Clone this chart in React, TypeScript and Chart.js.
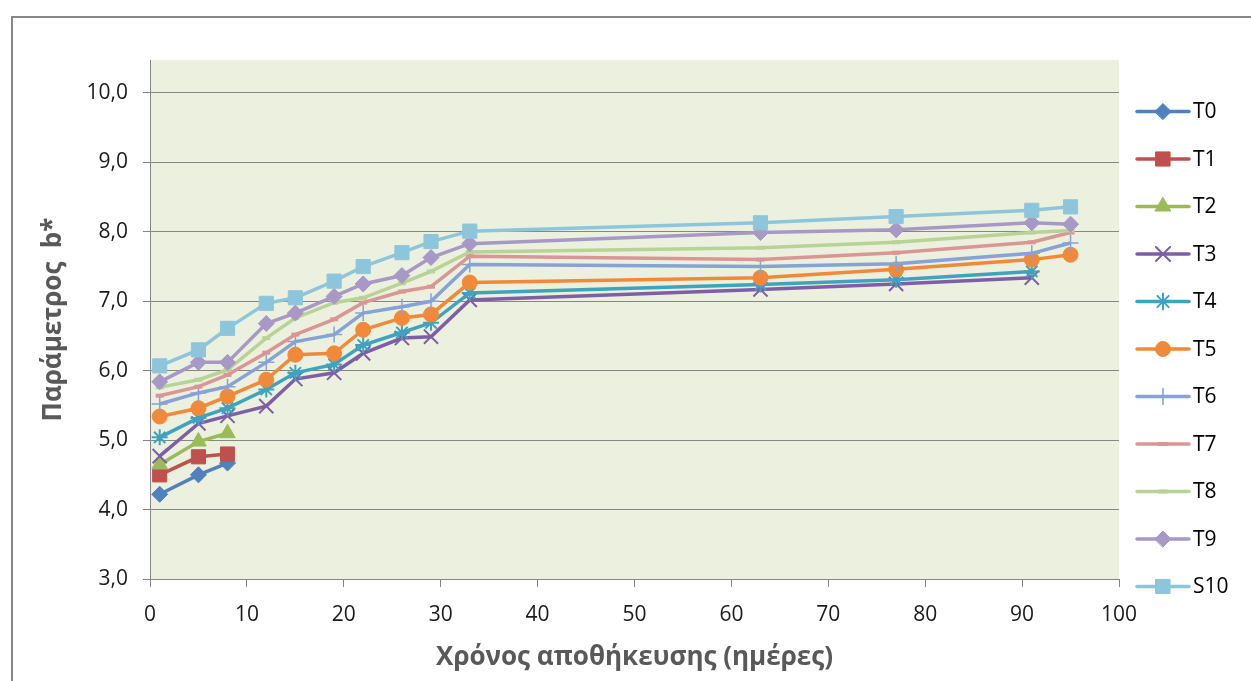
import React, { useEffect, useRef } from 'react';
import { Chart, registerables } from 'chart.js';
import { drawPoint } from 'chart.js/helpers';

Chart.register(...registerables);

// ---- data ----
const days = [1, 5, 8, 12, 15, 19, 22, 26, 29, 33, 63, 77, 91, 95];
const seriesNames = ['T0', 'T1', 'T2', 'T3', 'T4', 'T5', 'T6', 'T7', 'T8', 'T9', 'S10'];
const t0 = [4.22, 4.5, 4.67];
const t1 = [4.5, 4.76, 4.8];
const t2 = [4.65, 4.98, 5.1];
const t3 = [4.77, 5.24, 5.35, 5.49, 5.88, 5.97, 6.25, 6.47, 6.49, 7.02, 7.17, 7.25, 7.34];
const t4 = [5.04, 5.32, 5.46, 5.73, 5.97, 6.09, 6.37, 6.55, 6.69, 7.12, 7.24, 7.31, 7.43];
const t5 = [5.34, 5.46, 5.63, 5.87, 6.23, 6.25, 6.59, 6.76, 6.81, 7.27, 7.34, 7.46, 7.6, 7.67];
const t6 = [5.52, 5.68, 5.77, 6.12, 6.42, 6.52, 6.83, 6.92, 7.0, 7.53, 7.5, 7.54, 7.69, 7.84];
const t7 = [5.64, 5.77, 5.94, 6.26, 6.52, 6.74, 6.98, 7.14, 7.21, 7.65, 7.6, 7.7, 7.85, 7.99];
const t8 = [5.76, 5.87, 6.01, 6.47, 6.76, 6.98, 7.05, 7.26, 7.43, 7.71, 7.77, 7.85, 7.99, 8.02];
const t9 = [5.84, 6.12, 6.12, 6.68, 6.83, 7.07, 7.25, 7.37, 7.63, 7.83, 7.99, 8.03, 8.13, 8.11];
const s10 = [6.07, 6.3, 6.61, 6.97, 7.05, 7.29, 7.5, 7.7, 7.86, 8.01, 8.13, 8.22, 8.31, 8.36];
const seriesValues = [t0, t1, t2, t3, t4, t5, t6, t7, t8, t9, s10];
const yTickValues = [3, 4, 5, 6, 7, 8, 9, 10];
const xTitle = 'Χρόνος αποθήκευσης (ημέρες)';
const yTitle = 'Παράμετρος  b*';

// ---- styles ----
const colors = ['#4F81BD', '#C0504D', '#9BBB59', '#7E5FA5', '#3FA3BF', '#F08A3A', '#86A2D6', '#D99694', '#B9D296', '#A898C6', '#8DC6DA'];
const pointStyles = ['rectRot', 'rect', 'triangle', 'crossRot', 'star', 'circle', 'cross', 'line', 'line', 'rectRot', 'rect'];
const pointRadii = [8, 10, 9, 10, 8, 7.5, 8, 4, 4, 8, 10];
const pointBorders = [1, 1, 1, 2, 2, 1, 1.5, 4, 4, 1, 1];
const FONT = "'Open Sans', sans-serif";

const bgPlugin = {
  id: 'plotBg',
  beforeDraw(chart: any) {
    const { ctx, chartArea } = chart;
    ctx.save();
    ctx.fillStyle = '#EBF1DE';
    ctx.fillRect(chartArea.left, chartArea.top, chartArea.right - chartArea.left, chartArea.bottom - chartArea.top);
    ctx.restore();
  },
};

const legendPlugin = {
  id: 'sideLegend',
  afterDraw(chart: any) {
    const ctx = chart.ctx;
    chart.data.datasets.forEach((ds: any, i: number) => {
      const y = 111.5 + i * 47.5;
      ctx.save();
      ctx.strokeStyle = ds.borderColor;
      ctx.lineWidth = 3.5;
      ctx.lineCap = 'round';
      ctx.beginPath();
      ctx.moveTo(1137, y);
      ctx.lineTo(1189, y);
      ctx.stroke();
      ctx.fillStyle = ds.pointBackgroundColor;
      ctx.strokeStyle = ds.pointBorderColor;
      ctx.lineWidth = ds.pointBorderWidth;
      drawPoint(ctx, { pointStyle: ds.pointStyle, radius: ds.pointRadius, rotation: 0, borderWidth: ds.pointBorderWidth }, 1163, y);
      ctx.fillStyle = '#000000';
      ctx.font = `21px ${FONT}`;
      ctx.textBaseline = 'middle';
      ctx.textAlign = 'left';
      ctx.fillText(seriesNames[i], 1193, y + 1);
      ctx.restore();
    });
  },
};

export default function App() {
  const ref = useRef<HTMLCanvasElement>(null);
  useEffect(() => {
    if (!ref.current) return;
    const datasets = seriesValues.map((vals, i) => ({
      label: seriesNames[i],
      data: vals.map((v, j) => ({ x: days[j], y: v })),
      borderColor: colors[i],
      backgroundColor: colors[i],
      pointBackgroundColor: colors[i],
      pointBorderColor: colors[i],
      pointStyle: pointStyles[i],
      pointRadius: pointRadii[i],
      pointBorderWidth: pointBorders[i],
      borderWidth: 3.5,
      tension: 0,
      order: -i,
    }));
    const chart = new Chart(ref.current, {
      type: 'line',
      data: { datasets },
      plugins: [bgPlugin, legendPlugin],
      options: {
        animation: false,
        responsive: false,
        layout: { padding: { left: 0, right: 132, top: 60, bottom: 0 } },
        plugins: { legend: { display: false }, tooltip: { enabled: false } },
        scales: {
          x: {
            type: 'linear',
            min: 0,
            max: 100,
            ticks: { stepSize: 10, color: '#1a1a1a', font: { family: FONT, size: 21 }, padding: 15, maxRotation: 0 },
            grid: { drawOnChartArea: false, drawTicks: true, tickLength: 8, color: '#868686' },
            border: { display: true, color: '#868686', width: 1 },
            title: { display: true, text: xTitle, color: '#595959', font: { family: FONT, size: 26, weight: 'bold' }, padding: { top: 0, bottom: 8 } },
            afterFit: (s: any) => { s.height = 102; },
          },
          y: {
            type: 'linear',
            min: 3,
            max: 10.475,
            afterBuildTicks: (s: any) => { s.ticks = yTickValues.map((v) => ({ value: v })); },
            ticks: {
              color: '#1a1a1a',
              font: { family: FONT, size: 21 },
              padding: 15,
              callback: (v: any) => Number(v).toFixed(1).replace('.', ','),
            },
            grid: { drawOnChartArea: true, drawTicks: true, tickLength: 7, color: '#868686', lineWidth: 1 },
            border: { display: true, color: '#868686', width: 1 },
            title: { display: true, text: yTitle, color: '#595959', font: { family: FONT, size: 26, weight: 'bold' }, padding: { top: 38, bottom: 0 } },
            afterFit: (s: any) => { s.width = 150; },
          },
        },
      },
    });
    return () => chart.destroy();
  }, []);
  return (
    <div style={{ position: 'fixed', left: 0, top: 0, width: 1251, height: 681, overflow: 'hidden', background: '#fff' }}>
      <div style={{ position: 'absolute', left: 11, top: 16, width: 1300, height: 720, border: '2px solid #888888', boxSizing: 'border-box' }} />
      <canvas ref={ref} width={1251} height={681} style={{ position: 'absolute', left: 0, top: 0, width: 1251, height: 681 }} />
    </div>
  );
}
